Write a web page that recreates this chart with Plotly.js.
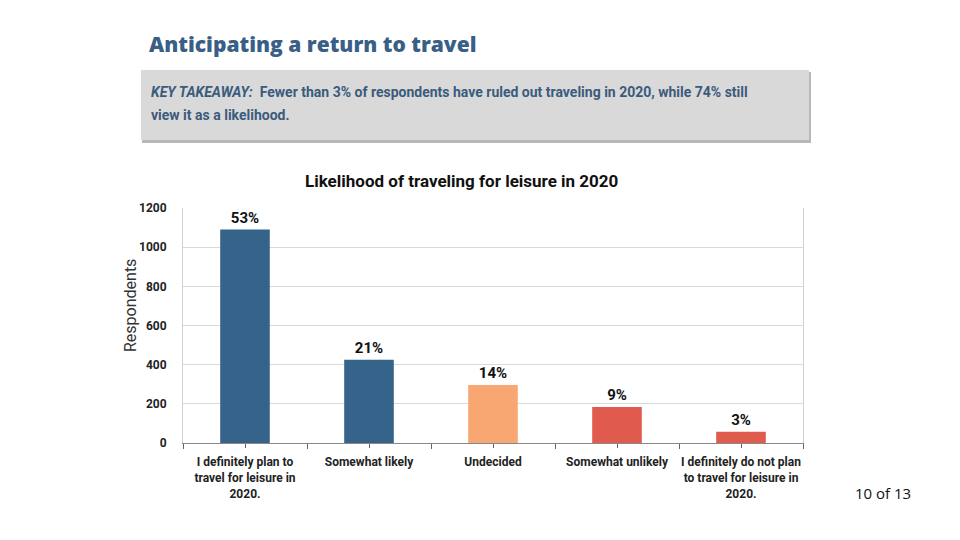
<!DOCTYPE html>
<html>
<head>
<meta charset="utf-8">
<script src="https://cdn.plot.ly/plotly-3.0.1.min.js"></script>
<style>html,body{margin:0;padding:0;background:#fff;}#chart{width:960px;height:540px;}</style>
</head>
<body>
<div id="chart"></div>
<script>
const categories = [
  "I definitely plan to<br>travel for leisure in<br>2020.",
  "Somewhat likely",
  "Undecided",
  "Somewhat unlikely",
  "I definitely do not plan<br>to travel for leisure in<br>2020."
];
const respondents = [1090, 425, 296, 184, 57];
const percentLabels = ["53%", "21%", "14%", "9%", "3%"];
const barColors = ["#35638a", "#35638a", "#f9a772", "#e05a4e", "#e05a4e"];
const yTickValues = [0, 200, 400, 600, 800, 1000, 1200];

const pageTitle = "Anticipating a return to travel";
const takeawayLine1 = "<i>KEY TAKEAWAY:</i>  Fewer than 3% of respondents have ruled out traveling in 2020, while 74% still";
const takeawayLine2 = "view it as a likelihood.";
const chartTitle = "Likelihood of traveling for leisure in 2020";
const yTitle = "Respondents";
const pageNumber = "10 of 13";

const COND = "Roboto, sans-serif";

// plot area in pixels
const L = 183, R = 803, T = 208, B = 443;
const px = x => (x - L) / (R - L);
const py = y => (B - y) / (B - T);

const xIdx = categories.map((c, i) => i);

const trace = {
  type: "bar",
  x: xIdx,
  y: respondents,
  width: 0.4,
  marker: {color: barColors, line: {width: 0}},
  text: percentLabels,
  textposition: "outside",
  textfont: {family: COND, size: 15, color: "#111", weight: "bold"},
  cliponaxis: false,
  hoverinfo: "skip"
};

const layout = {
  width: 960, height: 540,
  margin: {l: L, r: 960 - R, t: T, b: 540 - B, pad: 0},
  paper_bgcolor: "#ffffff",
  plot_bgcolor: "#ffffff",
  showlegend: false,
  xaxis: {
    range: [-0.5, 4.5],
    tickmode: "array",
    tickvals: xIdx,
    ticktext: categories,
    tickangle: 0,
    automargin: false,
    ticks: "outside", ticklen: 4, tickcolor: "#666", tickwidth: 1,
    ticklabelstandoff: 4,
    minor: {tickmode: "linear", tick0: -0.5, dtick: 1, ticks: "outside", ticklen: 5, tickcolor: "#666", tickwidth: 1, showgrid: false},
    showgrid: false, zeroline: false,
    showline: true, linecolor: "#888", linewidth: 1,
    tickfont: {family: COND, size: 12, color: "#222", weight: "bold"},
    fixedrange: true
  },
  yaxis: {
    range: [0, 1200],
    tickmode: "array",
    tickvals: yTickValues,
    showgrid: true, gridcolor: "#d9d9d9", gridwidth: 1,
    zeroline: false,
    showline: true, mirror: true, linecolor: "#d0d0d0", linewidth: 1,
    ticks: "", ticklabelstandoff: 13,
    automargin: false,
    tickfont: {family: COND, size: 12, color: "#222", weight: "bold"},
    fixedrange: true
  },
  shapes: [
    {type: "rect", xref: "paper", yref: "paper", x0: px(142), x1: px(811), y0: py(72), y1: py(143), fillcolor: "rgba(0,0,0,0.28)", line: {width: 0}, layer: "below"},
    {type: "rect", xref: "paper", yref: "paper", x0: px(141), x1: px(809), y0: py(70), y1: py(140), fillcolor: "#d9d9d9", line: {width: 0}, layer: "below"}
  ],
  annotations: [
    {text: pageTitle, xref: "paper", yref: "paper", x: px(147), y: py(44), xanchor: "left", yanchor: "middle", showarrow: false,
     font: {family: "Open Sans, sans-serif", size: 21, color: "#3a5f87", weight: 800}},
    {text: takeawayLine1, xref: "paper", yref: "paper", x: px(149), y: py(92), xanchor: "left", yanchor: "middle", showarrow: false,
     font: {family: COND, size: 14, color: "#3b5b7d", weight: "bold"}},
    {text: takeawayLine2, xref: "paper", yref: "paper", x: px(149), y: py(115), xanchor: "left", yanchor: "middle", showarrow: false,
     font: {family: COND, size: 14, color: "#3b5b7d", weight: "bold"}},
    {text: chartTitle, xref: "paper", yref: "paper", x: px(461), y: py(181), xanchor: "center", yanchor: "middle", showarrow: false,
     font: {family: COND, size: 17, color: "#111", weight: "bold"}},
    {text: yTitle, xref: "paper", yref: "paper", x: px(130), y: py(306), xanchor: "center", yanchor: "middle", textangle: -90, showarrow: false,
     font: {family: "Roboto, sans-serif", size: 16, color: "#333"}},
    {text: pageNumber, xref: "paper", yref: "paper", x: px(913), y: py(493), xanchor: "right", yanchor: "middle", showarrow: false,
     font: {family: "Open Sans, sans-serif", size: 15, color: "#111"}}
  ]
};

Plotly.newPlot("chart", [trace], layout, {displayModeBar: false, staticPlot: true});
</script>
</body>
</html>
